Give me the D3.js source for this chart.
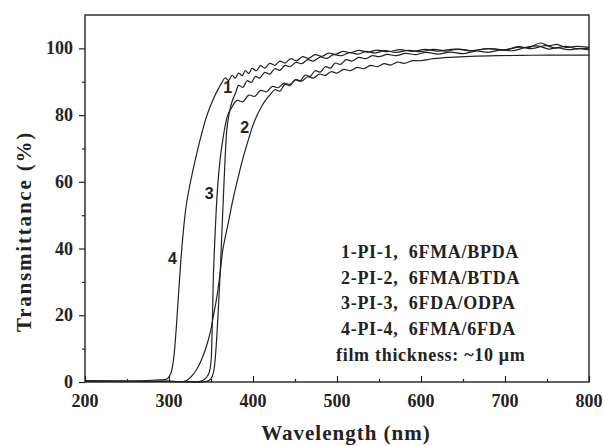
<!DOCTYPE html>
<html>
<head>
<script src="https://d3js.org/d3.v7.min.js"></script>
<title>Transmittance spectra</title>
<style>
body { margin: 0; background: #fff; }
#root { width: 604px; height: 446px; }
.tickLabel { font-family: "Liberation Serif", "Times New Roman", serif; font-weight: bold; font-size: 18px; fill: #222; }
.axisTitle { font-family: "Liberation Serif", "Times New Roman", serif; font-weight: bold; font-size: 21px; letter-spacing: 1px; fill: #222; }
.legend { font-family: "Liberation Serif", "Times New Roman", serif; font-weight: bold; font-size: 18px; letter-spacing: 0.7px; fill: #222; }
.curveNum { font-family: "Liberation Sans", Arial, sans-serif; font-weight: bold; font-size: 16px; fill: #222; }
</style>
</head>
<body>
<svg id="root"></svg>
<script>
// [wavelength nm, transmittance %]
let pi1 = [
	[200, 0.2], [250, 0.2], [300, 0.2], [345, 0.2], [350, 1], [353, 3], [355, 7], [357, 14], [359, 23],
	[361, 33], [363, 45], [365, 57], [367, 68], [369, 76], [372, 81], [375, 84], [379, 86.5],
	[383, 88.9], [388, 88.3], [393, 90.3], [398, 89.8], [403, 91.6], [408, 91.1], [414, 92.8], [420, 92.3],
	[426, 93.9], [432, 93.4], [438, 94.9], [444, 94.5], [451, 95.8], [458, 95.4], [465, 96.6], [472, 96.2],
	[480, 97.4], [488, 97.0], [496, 98.1], [505, 97.8], [515, 98.7], [525, 98.3], [535, 99.1], [545, 98.6],
	[557, 99.3], [570, 98.8], [585, 99.4], [600, 99.0], [615, 99.7], [630, 99.2], [645, 99.8], [660, 99.3],
	[680, 99.9], [700, 99.5], [715, 100.5], [728, 100.2], [742, 101.6], [752, 100.8], [762, 101.2],
	[772, 100.3], [785, 100.6], [800, 100.3]
]
let pi2 = [
	[200, 0.3], [250, 0.2], [300, 0.2], [318, 0.2], [322, 0.6], [326, 1.5], [331, 3], [337, 5.7],
	[343, 9.5], [349, 14.7], [353, 20], [357, 25.5], [361, 33], [364, 39.5], [370, 47], [376, 54.5],
	[382, 61], [388, 67], [395, 73], [400, 77], [405, 80], [410, 82.5], [415, 84.5], [420, 86],
	[426, 87.6], [432, 87.2], [438, 89.2], [444, 88.8], [450, 90.6], [456, 90.2], [462, 92], [468, 91.6],
	[474, 93.3], [480, 92.9], [486, 94.5], [492, 94.1], [498, 95.6], [504, 95.2], [511, 96.6], [518, 96.2],
	[526, 97.3], [534, 96.9], [542, 97.8], [550, 97.5], [560, 98.2], [570, 97.8], [582, 98.5], [594, 98.1],
	[606, 98.8], [620, 98.3], [635, 98.9], [650, 98.4], [665, 99.2], [680, 98.8], [695, 99.5], [710, 99.3],
	[725, 100.3], [740, 100.7], [752, 99.8], [762, 100.2], [775, 99.6], [790, 99.9], [800, 99.5]
]
let pi3 = [
	[200, 0.2], [250, 0.2], [300, 0.2], [337, 0.2], [341, 0.6], [345, 1.5], [348, 3], [350, 6],
	[351, 12], [352, 22], [353, 33], [355, 45], [357, 55], [359, 62], [361, 67], [364, 72.5],
	[367, 77], [370, 80], [374, 82], [381, 84.4], [388, 84.0], [395, 86.0], [402, 85.6], [409, 87.4],
	[416, 87.0], [423, 88.6], [430, 88.2], [437, 89.6], [444, 89.2], [451, 90.6], [458, 90.2], [465, 91.5],
	[472, 91.1], [479, 92.3], [486, 91.9], [493, 93.0], [500, 92.6], [508, 93.7], [516, 93.3], [524, 94.3],
	[532, 93.9], [540, 94.9], [548, 94.5], [556, 95.4], [564, 95.0], [572, 95.9], [580, 95.5], [590, 96.3],
	[600, 96.3], [615, 96.9], [635, 97.3], [660, 97.6], [690, 97.8], [720, 97.9], [750, 98], [775, 98], [800, 98]
]
let pi4 = [
	[200, 0.4], [230, 0.3], [260, 0.3], [285, 0.6], [298, 1], [302, 2.5], [305, 6], [308, 14],
	[311, 25], [314, 36], [317, 45], [320, 52], [324, 58], [329, 64], [334, 69.5], [339, 74.5],
	[344, 79], [349, 82.5], [354, 85.5], [359, 88], [363, 89.8], [367, 91.2], [371, 90.4], [375, 91.9],
	[379, 91.1], [383, 92.6], [387, 91.8], [391, 93.3], [395, 92.5], [399, 94], [404, 93.3], [409, 94.8],
	[414, 94.1], [420, 95.5], [426, 94.9], [432, 96.2], [438, 95.6], [445, 96.9], [452, 96.3], [459, 97.5],
	[466, 97], [474, 98.1], [482, 97.6], [490, 98.6], [498, 98.2], [507, 99.1], [516, 98.7], [526, 99.4],
	[536, 98.9], [548, 99.5], [560, 99], [575, 99.6], [590, 99.1], [605, 99.7], [620, 99.2], [640, 99.8],
	[660, 99.3], [680, 99.9], [700, 99.6], [718, 100.4], [732, 99.9], [748, 100.8], [760, 100.1],
	[772, 100.6], [785, 99.9], [800, 100.1]
]

let series = [pi1, pi2, pi3, pi4]

let legendLines = [
	'1-PI-1,  6FMA/BPDA',
	'2-PI-2,  6FMA/BTDA',
	'3-PI-3,  6FDA/ODPA',
	'4-PI-4,  6FMA/6FDA',
	'film thickness: ~10 \u03bcm'
]

// curve number labels: [text, wavelength, transmittance]
let curveLabels = [
	['1', 370, 86.5],
	['2', 390, 74.5],
	['3', 348, 55],
	['4', 304, 35.5]
]

let xTicks = [200, 300, 400, 500, 600, 700, 800]
let yTicks = [0, 20, 40, 60, 80, 100]

let svg = d3.select('#root')
let margin = {left: 85, right: 15, top: 15, bottom: 64}
let W = 604, H = 446

let x = d3.scaleLinear().domain([200, 800]).range([margin.left, W - margin.right])
let y = d3.scaleLinear().domain([0, 110]).range([H - margin.bottom, margin.top])

let ink = '#222'

// frame
svg.append('rect')
	.attr('x', x(200)).attr('y', y(110))
	.attr('width', x(800) - x(200)).attr('height', y(0) - y(110))
	.attr('fill', 'none').attr('stroke', ink).attr('stroke-width', 1.4)

// x axis: ticks inward
let xAxis = svg.append('g').attr('transform', 'translate(0,' + y(0) + ')')
	.call(d3.axisBottom(x).tickValues(xTicks).tickSize(-6).tickFormat(''))
xAxis.append('g').call(d3.axisBottom(x).tickValues(d3.range(250, 800, 100)).tickSize(-3).tickFormat(''))
xAxis.selectAll('.domain').remove()
xAxis.selectAll('line').attr('stroke', ink).attr('stroke-width', 1.2)

svg.append('g').selectAll('text').data(xTicks).join('text')
	.attr('class', 'tickLabel')
	.attr('x', d => x(d)).attr('y', y(0) + 25)
	.attr('text-anchor', 'middle')
	.text(d => d)

// y axis: ticks outward
let yAxis = svg.append('g').attr('transform', 'translate(' + x(200) + ',0)')
	.call(d3.axisLeft(y).tickValues(yTicks).tickSize(6).tickFormat(''))
yAxis.append('g').call(d3.axisLeft(y).tickValues(d3.range(10, 110, 20)).tickSize(3).tickFormat(''))
yAxis.selectAll('.domain').remove()
yAxis.selectAll('line').attr('stroke', ink).attr('stroke-width', 1.2)

svg.append('g').selectAll('text').data(yTicks).join('text')
	.attr('class', 'tickLabel')
	.attr('x', x(200) - 12).attr('y', d => y(d) + 6)
	.attr('text-anchor', 'end')
	.text(d => d)

// axis titles
svg.append('text').attr('class', 'axisTitle')
	.attr('x', (x(200) + x(800)) / 2 + 9).attr('y', 440)
	.attr('text-anchor', 'middle')
	.text('Wavelength (nm)')

svg.append('text').attr('class', 'axisTitle')
	.style('letter-spacing', '1.8px')
	.attr('transform', 'translate(31,' + ((y(0) + y(110)) / 2 + 33) + ') rotate(-90)')
	.attr('text-anchor', 'middle')
	.text('Transmittance (%)')

// curves
let line = d3.line().x(d => x(d[0])).y(d => y(d[1])).curve(d3.curveCatmullRom.alpha(0.5))

svg.append('g').selectAll('path').data(series).join('path')
	.attr('d', line)
	.attr('fill', 'none')
	.attr('stroke', ink)
	.attr('stroke-width', 1.2)

svg.append('g').selectAll('text').data(curveLabels).join('text')
	.attr('class', 'curveNum')
	.attr('x', d => x(d[1])).attr('y', d => y(d[2]))
	.attr('text-anchor', 'middle')
	.text(d => d[0])

// legend text
svg.append('g').selectAll('text').data(legendLines).join('text')
	.attr('class', 'legend')
	.attr('x', (d, i) => i < 4 ? 341 : 336)
	.attr('y', (d, i) => 258 + i * 25.7)
	.attr('xml:space', 'preserve')
	.style('white-space', 'pre')
	.text(d => d)
</script>
</body>
</html>
